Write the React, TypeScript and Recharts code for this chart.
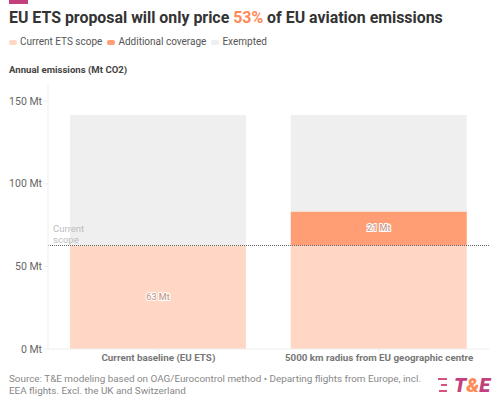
import { BarChart, Bar, XAxis, YAxis, ReferenceLine, LabelList } from "recharts";

const categories = ["Current baseline (EU ETS)", "5000 km radius from EU geographic centre"];
const currentScope = [62.6, 62.6];
const additional = [0, 20.6];
const exempted = [78.9, 58.3];
const currentLabels = [63, null];
const additionalLabels = [null, 21];
const yTicks = [0, 50, 100, 150];

const data = categories.map((name, i) => ({
  name,
  currentScope: currentScope[i],
  additional: additional[i] || null,
  exempted: exempted[i],
  currentLabel: currentLabels[i],
  additionalLabel: additionalLabels[i],
}));

const legend = [
  { name: "Current ETS scope", color: "#ffd7c4" },
  { name: "Additional coverage", color: "#ff9e75" },
  { name: "Exempted", color: "#efefef" },
];

const font = "Roboto, sans-serif";

function ScopeLabel({ viewBox }: any) {
  return (
    <text x={53} y={viewBox.y - 14} fontFamily={font} fontSize={9.5} fill="#bdbdbd">
      <tspan x={53}>Current</tspan>
      <tspan x={53} dy={11}>scope</tspan>
    </text>
  );
}

function BarValue({ x, y, width, height, value }: any) {
  if (!value) return null;
  return (
    <text
      x={x + width / 2}
      y={y + height / 2}
      textAnchor="middle"
      dominantBaseline="central"
      fontFamily={font}
      fontSize={9}
      fontWeight={500}
      fill="#c9a090"
      stroke="#fff"
      strokeWidth={2}
      paintOrder="stroke"
    >
      {value} Mt
    </text>
  );
}

export default function App() {
  return (
    <div style={{ position: "absolute", left: 0, top: 0, width: 500, height: 407, background: "#fff", fontFamily: font, overflow: "hidden" }}>
      <div style={{ position: "absolute", left: 9, top: 0, width: 19, height: 4, background: "#c2407c" }} />
      <div style={{ position: "absolute", left: 9, top: 6, fontSize: 15.9, fontWeight: 700, color: "#333", whiteSpace: "nowrap", lineHeight: "24px" }}>
        EU ETS proposal will only price <span style={{ color: "#ff8a56" }}>53%</span> of EU aviation emissions
      </div>
      <div style={{ position: "absolute", left: 9, top: 34, display: "flex", fontSize: 10, color: "#555", lineHeight: "16px", whiteSpace: "nowrap" }}>
        {legend.map((l) => (
          <div key={l.name} style={{ display: "flex", alignItems: "center", marginRight: 5 }}>
            <span style={{ width: 8, height: 5, borderRadius: 2, background: l.color, marginRight: 3 }} />
            {l.name}
          </div>
        ))}
      </div>
      <div style={{ position: "absolute", left: 9, top: 63, fontSize: 9.6, fontWeight: 700, color: "#444", lineHeight: "14px" }}>
        Annual emissions (Mt CO2)
      </div>
      <div style={{ position: "absolute", left: 0, top: 0 }}>
        <BarChart width={500} height={407} data={data} margin={{ top: 84.5, right: 10.5, bottom: 30, left: 0 }} barSize={176}>
          <XAxis
            dataKey="name"
            height={28}
            interval={0}
            axisLine={{ stroke: "#eee" }}
            tickLine={{ stroke: "#eee" }}
            tickSize={3}
            tick={{ fontFamily: font, fontSize: 9.8, fontWeight: 700, fill: "#777" }}
          />
          <YAxis
            width={48}
            domain={[0, 160]}
            ticks={yTicks}
            tickFormatter={(v) => `${v} Mt`}
            axisLine={{ stroke: "#eee" }}
            tickLine={{ stroke: "#eee" }}
            tickSize={4}
            tick={{ fontFamily: font, fontSize: 10.5, fill: "#666" }}
          />
          <Bar dataKey="currentScope" stackId="a" fill="#ffd7c4" isAnimationActive={false}>
            <LabelList dataKey="currentLabel" content={BarValue} />
          </Bar>
          <Bar dataKey="additional" stackId="a" fill="#ff9e75" isAnimationActive={false}>
            <LabelList dataKey="additionalLabel" content={BarValue} />
          </Bar>
          <Bar dataKey="exempted" stackId="a" fill="#efefef" isAnimationActive={false} />
          <ReferenceLine y={62.6} stroke="#666" strokeDasharray="1 1" strokeWidth={1} label={ScopeLabel} />
        </BarChart>
      </div>
      <div style={{ position: "absolute", left: 9, top: 373, width: 428, fontSize: 9.9, color: "#888", lineHeight: "12px" }}>
        Source: T&amp;E modeling based on OAG/Eurocontrol method • Departing flights from Europe, incl. EEA flights. Excl. the UK and Switzerland
      </div>
      <div style={{ position: "absolute", left: 438, top: 378, width: 9, height: 14, display: "flex", flexDirection: "column", justifyContent: "space-between", alignItems: "flex-end" }}>
        <span style={{ width: 9, height: 2, background: "#d6517f" }} />
        <span style={{ width: 6, height: 2, background: "#d6517f" }} />
        <span style={{ width: 8, height: 2, background: "#d6517f" }} />
      </div>
      <div style={{ position: "absolute", left: 454, top: 373, fontSize: 20, fontWeight: 900, fontStyle: "italic", color: "#c2407c", lineHeight: "24px", whiteSpace: "nowrap" }}>
        T<span style={{ color: "#ff8a56" }}>&amp;</span>E
      </div>
    </div>
  );
}
